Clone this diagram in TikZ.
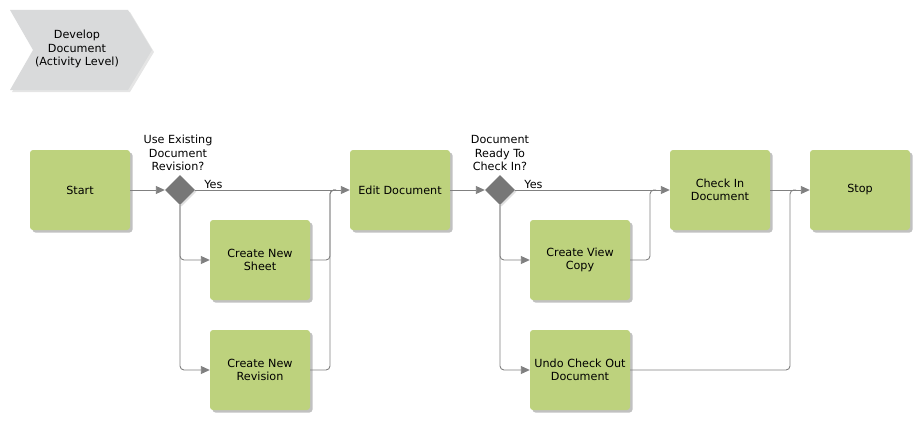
\documentclass[tikz,border=0pt]{standalone}
\usepackage{fontspec}
\setmainfont{DejaVu Sans}
\usetikzlibrary{shapes.geometric,shadows,arrows.meta}
\definecolor{boxgreen}{HTML}{BDD27D}
\definecolor{linegray}{HTML}{808080}
\definecolor{diagray}{HTML}{777777}
\definecolor{chevgray}{HTML}{D9DADB}
\begin{document}
\begin{tikzpicture}[x=1pt,y=-1pt,
  every node/.style={font=\fontsize{11.2}{13.3}\selectfont},
  task/.style={rectangle, rounded corners=3pt, fill=boxgreen, minimum width=100pt, minimum height=80pt, inner sep=1pt, align=center,
    drop shadow={shadow xshift=2.5pt, shadow yshift=-2.5pt, fill=black!30, opacity=0.8}},
  gate/.style={diamond, aspect=1, minimum width=30pt, minimum height=30pt, inner sep=0pt, fill=diagray,
    drop shadow={shadow xshift=1.5pt, shadow yshift=-1.5pt, fill=black!25}},
  conn/.style={draw=linegray, line width=0.9pt, rounded corners=4pt, -{Triangle[length=9pt,width=8pt,fill=linegray]}},
  plain/.style={draw=linegray, line width=0.9pt, rounded corners=4pt},
  qlabel/.style={align=center, inner sep=0pt},
  ylabel/.style={anchor=south west, inner sep=1pt}]
\useasboundingbox (0,0) rectangle (920,420);

% chevron
\fill[chevgray, drop shadow={shadow xshift=2pt, shadow yshift=-2pt, fill=black!20}]
  (10,10) -- (128,10) -- (152,50) -- (128,90) -- (10,90) -- (33,50) -- cycle;
\node[qlabel] (title) at (77,49) {Develop\\Document\\(Activity Level)};

% nodes
\node[task] (start) at (80,190) {Start};
\node[gate] (g1) at (180,190) {};
\node[qlabel] (q1) at (178,153) {Use Existing\\Document\\Revision?};
\node[task] (cns) at (260,260) {Create New\\Sheet};
\node[task] (cnr) at (260,370) {Create New\\Revision};
\node[task] (edit) at (400,190) {Edit Document};
\node[gate] (g2) at (500,190) {};
\node[qlabel] (q2) at (500,153) {Document\\Ready To\\Check In?};
\node[task] (cvc) at (580,260) {Create View\\Copy};
\node[task] (undo) at (580,370) {Undo Check Out\\Document};
\node[task] (checkin) at (720,190) {Check In\\Document};
\node[task] (stop) at (860,190) {Stop};

\coordinate (j1) at (330,190);
\coordinate (j2) at (650,190);
\coordinate (j3) at (790,190);

% connectors
\draw[conn] (start.east) -- (g1.west);
\draw[conn] (g1.east) -- node[ylabel, pos=0.05] {Yes} (edit.west);
\draw[conn] (g1.south) |- (cns.west);
\draw[conn] (g1.south) |- (cnr.west);
\draw[plain] (cns.east) -| (j1) -- ++(3,0);
\draw[plain] (cnr.east) -| (j1) -- ++(3,0);
\draw[conn] (edit.east) -- (g2.west);
\draw[conn] (g2.east) -- node[ylabel, pos=0.05] {Yes} (checkin.west);
\draw[conn] (g2.south) |- (cvc.west);
\draw[conn] (g2.south) |- (undo.west);
\draw[plain] (cvc.east) -| (j2) -- ++(3,0);
\draw[conn] (checkin.east) -- (stop.west);
\draw[plain] (undo.east) -| (j3) -- ++(3,0);
\end{tikzpicture}
\end{document}
